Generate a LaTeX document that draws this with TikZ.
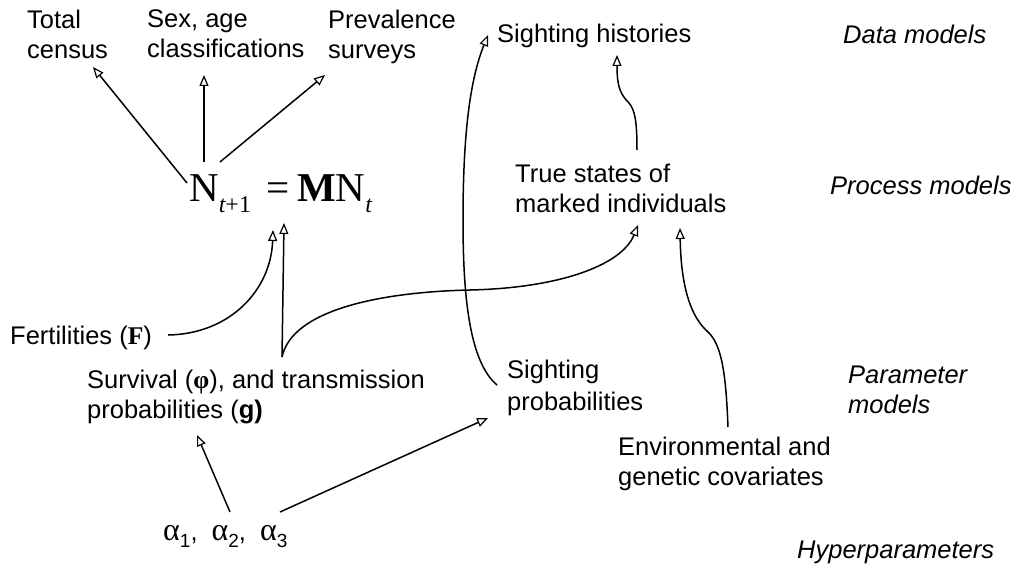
\documentclass[tikz,border=0pt]{standalone}
\usepackage{fontspec}
\setmainfont{Liberation Sans}
\newfontfamily\serifA{Liberation Serif}
\usetikzlibrary{arrows.meta}
\newcommand\alphasub[1]{{\serifA\fontsize{32}{32}\selectfont α}\raisebox{-7pt}{\fontsize{19}{19}\selectfont #1}}
\begin{document}
\begin{tikzpicture}[x=1pt,y=-1pt,
  lbl/.style={inner sep=0pt, font=\fontsize{25.5}{30}\selectfont, align=left},
  tag/.style={inner sep=0pt, font=\fontsize{25.5}{30}\selectfont\itshape, align=left},
  arr/.style={line width=1.5pt, -{Triangle[open,length=11pt,width=9pt,line width=1.2pt]}},
  ]
\useasboundingbox (0,0) rectangle (1021,567);
% data level
\node[lbl,anchor=north west] (total) at (27,9.5) {Total\\census};
\node[lbl,anchor=north west] (sex) at (147,9.5) {Sex, age\\classifications};
\node[lbl,anchor=north west] (prev) at (328,9.5) {Prevalence\\surveys};
\node[lbl,anchor=base west] (sh) at (497,43) {Sighting histories};
\node[tag,anchor=base west] (dm) at (843,44) {Data models};
% process level
\node[inner sep=0pt,anchor=base west,font=\serifA\fontsize{41}{41}\selectfont] (eq) at (189,202)
  {N\raisebox{-10pt}{\fontsize{24}{24}\selectfont\itshape t\upshape+1}\hspace{15pt}=\hspace{8pt}\textbf{M}N\raisebox{-10pt}{\fontsize{24}{24}\selectfont\itshape t}};
\node[lbl,anchor=north west] (ts) at (515,163.5) {True states of\\marked individuals};
\node[tag,anchor=base west] (pm) at (830,195) {Process models};
% parameter level
\node[lbl,anchor=base west] (fert) at (10,344) {Fertilities ({\serifA\bfseries F})};
\node[lbl,anchor=north west] (surv) at (87,369.5) {Survival ({\serifA\bfseries φ}), and transmission\\probabilities (\textbf{g)}};
\node[lbl,anchor=north west] (sp) at (507,359.5) {Sighting\\[2pt]probabilities};
\node[tag,anchor=north west] (parm) at (848,365.5) {Parameter\\models};
\node[lbl,anchor=north west] (env) at (618,436.5) {Environmental and\\genetic covariates};
% hyperparameters
\node[lbl,anchor=base west] (alpha) at (163,540)
  {\alphasub{1},\hspace{14pt}\alphasub{2},\hspace{14pt}\alphasub{3}};
\node[tag,anchor=base west] (hyp) at (797,558) {Hyperparameters};
% connector end points
\coordinate (eqA) at (187,183);
\coordinate (eqB) at (204,162);
\coordinate (eqC) at (220,162);
\coordinate (totalT) at (93,67);
\coordinate (sexT) at (204,75);
\coordinate (prevT) at (325,75);
\coordinate (fertS) at (168,335);
\coordinate (eqF) at (273,230);
\coordinate (survS) at (282,357);
\coordinate (eqS) at (284,223);
\coordinate (tsS) at (638,225);
\coordinate (spS) at (497,385);
\coordinate (shT) at (488,35);
\coordinate (tsU) at (637,150);
\coordinate (shU) at (617,55);
\coordinate (envS) at (728,427);
\coordinate (tsE) at (680,228);
\coordinate (alA) at (230,512);
\coordinate (survT) at (197,435);
\coordinate (alB) at (280,512);
\coordinate (spT) at (488,418);
% connectors
\draw[arr] (eqA) -- (totalT);
\draw[arr] (eqB) -- (sexT);
\draw[arr] (eqC) -- (prevT);
\draw[arr] (fertS) .. controls (230,334) and (271,290) .. (eqF);
\draw[arr] (survS) -- (eqS);
\draw[arr] (survS) .. controls (292,310) and (380,292) .. (470,290) .. controls (560,288) and (622,265) .. (tsS);
\draw[arr] (spS) .. controls (470,362) and (463,300) .. (463,220) .. controls (463,140) and (469,82) .. (shT);
\draw[arr] (tsU) .. controls (637,122) and (635,110) .. (629,103) .. controls (620,94) and (617,86) .. (shU);
\draw[arr] (envS) .. controls (726,375) and (722,345) .. (708,332) .. controls (692,318) and (681,290) .. (tsE);
\draw[arr] (alA) -- (survT);
\draw[arr] (alB) -- (spT);
\end{tikzpicture}
\end{document}
